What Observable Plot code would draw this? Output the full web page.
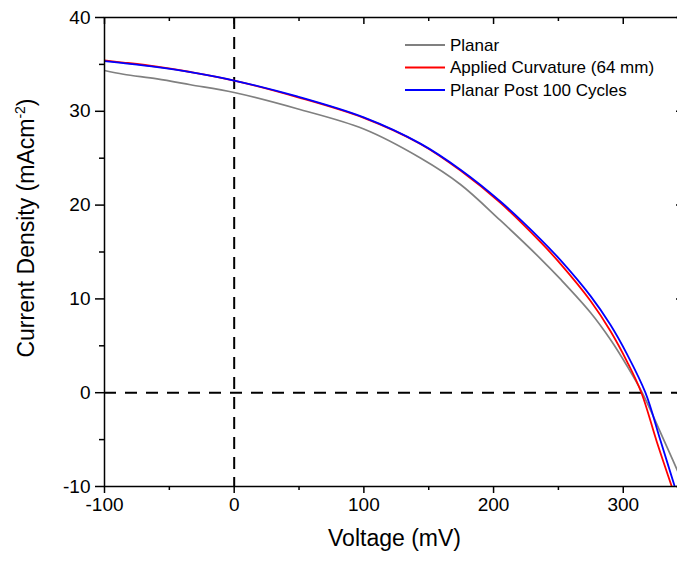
<!DOCTYPE html>
<html><head><meta charset="utf-8">
<script src="https://cdn.jsdelivr.net/npm/d3@7"></script>
<script src="https://cdn.jsdelivr.net/npm/@observablehq/plot@0.6"></script>
<style>
html,body{margin:0;padding:0;background:#fff;overflow:hidden;}
#chart{position:relative;width:677px;height:561px;overflow:hidden;}
#chart svg{max-width:none !important;}
</style></head><body><div id="chart"></div>
<script>
// Data
const planarV = [-100, -85.4, -59.4, -33.7, 0, 48.6, 99.9, 143.6, 174.5, 205.3, 236.1, 251.6, 274.7, 290.1, 303.2, 314.6, 331.5, 341.7, 351.7];
const planarJ = [34.35, 33.95, 33.45, 32.83, 32.0, 30.27, 28.11, 25.02, 22.2, 18.36, 14.3, 12.1, 8.55, 5.67, 2.79, 0, -5.1, -8.29, -11.5];
const curvedV = [-100, -85.4, -59.4, -33.7, 0, 48.6, 99.9, 143.6, 174.5, 205.3, 236.1, 251.6, 274.7, 290.1, 303.2, 314.0, 325.8, 337.4];
const curvedJ = [35.42, 35.2, 34.76, 34.19, 33.28, 31.52, 29.3, 26.52, 23.68, 20.23, 16.07, 13.74, 9.81, 6.58, 3.24, 0, -5.2, -10];
const cycledV = [-100, -85.4, -59.4, -33.7, 0, 48.6, 99.9, 143.6, 174.5, 205.3, 236.1, 251.6, 274.7, 290.1, 303.2, 317.1, 328.7, 339.7];
const cycledJ = [35.35, 35.13, 34.7, 34.17, 33.28, 31.58, 29.35, 26.55, 23.77, 20.38, 16.38, 14.13, 10.32, 7.24, 4.03, 0, -5.1, -10];

const seriesNames = ["Planar", "Applied Curvature (64 mm)", "Planar Post 100 Cycles"];
const seriesColors = ["#808080", "#ff0000", "#0000ff"];

const xTicks = [-100, 0, 100, 200, 300];
const xMinor = [-50, 50, 150, 250];
const yTicks = [-10, 0, 10, 20, 30, 40];
const yMinor = [-5, 5, 15, 25, 35];

const xTitle = "Voltage (mV)";
const yTitle = ["Current Density (mAcm", "-2", ")"];

const toRows = (vs, js) => vs.map((v, i) => ({v, j: js[i]}));
const planar = toRows(planarV, planarJ);
const curved = toRows(curvedV, curvedJ);
const cycled = toRows(cycledV, cycledJ);

const W = 700, H = 561, ML = 104, MR = 15, MT = 17, MB = 75;
const innerW = W - ML - MR, innerH = H - MT - MB;
const font = "'Liberation Sans', Arial, sans-serif";
const fmt = d => String(d);

const plot = Plot.plot({
  width: W, height: H,
  marginLeft: ML, marginRight: MR, marginTop: MT, marginBottom: MB,
  style: {fontFamily: font, background: "white", color: "black", maxWidth: "none"},
  x: {domain: [-100, 348]},
  y: {domain: [-10, 40]},
  marks: [
    Plot.ruleX([0], {stroke: "black", strokeWidth: 2, strokeDasharray: "12,8"}),
    Plot.ruleY([0], {stroke: "black", strokeWidth: 2, strokeDasharray: "12,9"}),
    Plot.line(planar, {x: "v", y: "j", stroke: seriesColors[0], strokeWidth: 1.7, curve: "catmull-rom", clip: true}),
    Plot.line(curved, {x: "v", y: "j", stroke: seriesColors[1], strokeWidth: 1.8, curve: "catmull-rom", clip: true}),
    Plot.line(cycled, {x: "v", y: "j", stroke: seriesColors[2], strokeWidth: 1.8, curve: "catmull-rom", clip: true}),
    Plot.frame({stroke: "black", strokeWidth: 1.5}),
    Plot.axisX(xTicks, {tickSize: 7, tickPadding: 4, fontSize: 19, label: null, tickFormat: fmt, strokeWidth: 1.5}),
    Plot.axisX(xMinor, {tickSize: 4, fontSize: 19, label: null, tickFormat: () => "", strokeWidth: 1.5}),
    Plot.axisY(yTicks, {tickSize: 9, tickPadding: 5, fontSize: 19, label: null, tickFormat: fmt, strokeWidth: 1.5}),
    Plot.axisY(yMinor, {tickSize: 5, fontSize: 19, label: null, tickFormat: () => "", strokeWidth: 1.5}),
    Plot.tickX(xTicks, {x: d => d, insetBottom: innerH - 7, stroke: "black", strokeWidth: 1.5}),
    Plot.tickX(xMinor, {x: d => d, insetBottom: innerH - 4, stroke: "black", strokeWidth: 1.5}),
    Plot.tickY(yTicks, {y: d => d, insetLeft: innerW - 9, stroke: "black", strokeWidth: 1.5}),
    Plot.tickY(yMinor, {y: d => d, insetLeft: innerW - 5, stroke: "black", strokeWidth: 1.5})
  ]
});
plot.style.maxWidth = "none";

const svg = d3.select(plot);
svg.append("text")
  .attr("x", ML + (685 - ML) / 2).attr("y", 546)
  .attr("text-anchor", "middle").attr("font-size", 23).attr("font-family", font).attr("fill", "black")
  .text(xTitle);
const yt = svg.append("text")
  .attr("transform", "translate(34,228) rotate(-90)")
  .attr("text-anchor", "middle").attr("font-size", 23).attr("font-family", font).attr("fill", "black");
yt.append("tspan").text(yTitle[0]);
yt.append("tspan").attr("font-size", 14).attr("dy", -9).text(yTitle[1]);
yt.append("tspan").attr("dy", 9).text(yTitle[2]);

const lg = svg.append("g").attr("font-family", font).attr("font-size", 17).attr("text-anchor", "start");
seriesNames.forEach((name, i) => {
  const y = 45 + i * 22.5;
  lg.append("line").attr("x1", 405).attr("x2", 445).attr("y1", y).attr("y2", y)
    .attr("stroke", seriesColors[i]).attr("stroke-width", 1.8);
  lg.append("text").attr("x", 450).attr("y", y).attr("dy", "0.35em").attr("fill", "black").text(name);
});

document.getElementById("chart").appendChild(plot);
</script></body></html>
